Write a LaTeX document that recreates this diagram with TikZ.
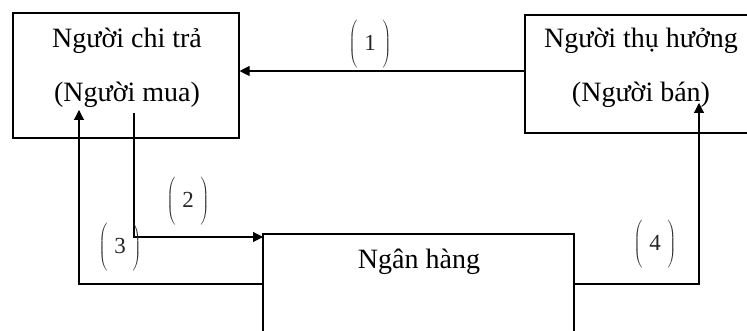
\documentclass[tikz,border=0pt]{standalone}
\usepackage{fontspec}
\setmainfont{Liberation Serif}
\usetikzlibrary{arrows.meta}
\begin{document}
\begin{tikzpicture}[x=1pt,y=-1pt,
 box/.style={draw, line width=1.1pt, inner sep=0pt},
 txt/.style={font=\fontsize{28}{54}\selectfont, align=center, inner sep=0pt},
 conn/.style={line width=1.1pt, -{Triangle[length=10pt,width=10pt]}},
 lbl/.style={font=\fontsize{23}{24}\selectfont, inner sep=0pt, text=black!85}]
\useasboundingbox (0,0) rectangle (747,331);
\begin{scope}
\clip (0,0) rectangle (747,331);
% boxes
\node[box, minimum width=226pt, minimum height=125pt] (payer) at (126,75.5) {};
\node[box, minimum width=232pt, minimum height=118pt] (payee) at (641,74) {};
\node[box, minimum width=311pt, minimum height=150pt] (bank) at (418.5,309) {};
% texts
\node[txt] (payertxt) at (127,68) {Người chi trả\\(Người mua)};
\node[txt] (payeetxt) at (641,68) {Người thụ hưởng\\(Người bán)};
\node[txt] (banktxt) at (419,262) {Ngân hàng};
% connector points
\coordinate (p2) at (134,113);
\coordinate (b2) at (263,237);
\coordinate (b3) at (263,284);
\coordinate (p3) at (79,110);
\coordinate (b4) at (575,284);
\coordinate (s4) at (699,103);
% connectors
\draw[conn] (payee.west |- 0,71) -- (payer.east |- 0,71);
\draw[conn] (p2) |- (b2);
\draw[conn] (b3) -| (p3);
\draw[conn] (b4) -| (s4);
% labels
\node[lbl] (l1) at (370,45) {$\left(\vrule height 19pt depth 19pt width 0pt\;\mbox{1}\;\right)$};
\node[lbl] (l2) at (188,202) {$\left(\vrule height 19pt depth 19pt width 0pt\;\mbox{2}\;\right)$};
\node[lbl] (l3) at (120,248) {$\left(\vrule height 19pt depth 19pt width 0pt\;\mbox{3}\;\right)$};
\node[lbl] (l4) at (655,245) {$\left(\vrule height 19pt depth 19pt width 0pt\;\mbox{4}\;\right)$};
\end{scope}
\end{tikzpicture}
\end{document}
